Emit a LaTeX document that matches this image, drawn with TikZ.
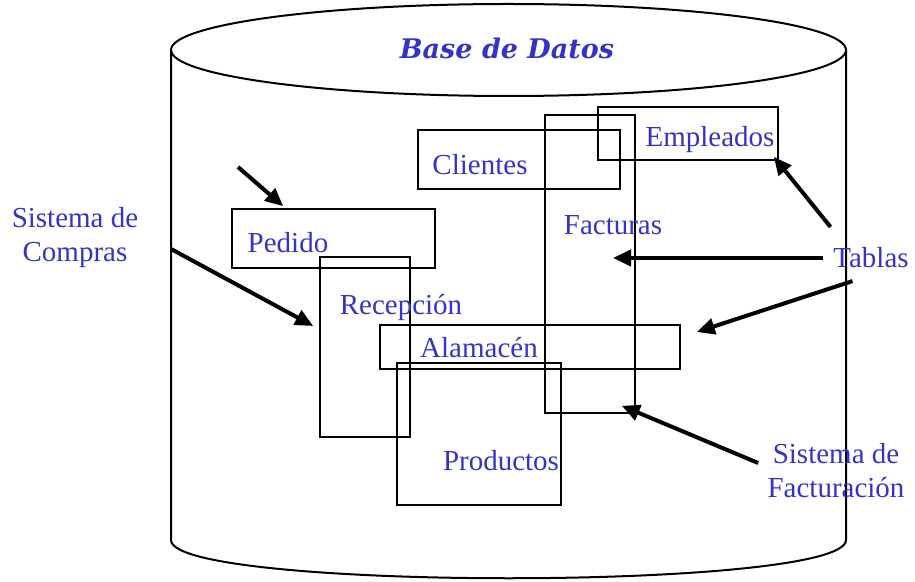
\documentclass[tikz,border=0pt]{standalone}
\usepackage{fontspec}
\setmainfont{Liberation Serif}
\newfontfamily\titlefont{DejaVu Serif}
\usetikzlibrary{arrows.meta}
\definecolor{azul}{RGB}{51,51,204}
\tikzset{
  tabla/.style={draw, line width=0.8pt, inner sep=0pt},
  rotulo/.style={text=azul, font=\fontsize{14.5}{17}\selectfont, inner sep=0pt},
  flecha/.style={-{Triangle[length=9pt,width=8pt]}, line width=2pt},
}
\begin{document}
\begin{tikzpicture}[x=0.5pt, y=-0.5pt]
  \useasboundingbox (0,0) rectangle (915,582);
  % cilindro
  \draw[line width=1pt] (508.5,50) ellipse [x radius=337.5, y radius=46];
  \draw[line width=1pt] (171,50) -- (171,540)
        .. controls (171,591) and (846,591) .. (846,540) -- (846,50);
  \node[rotulo, font=\titlefont\bfseries\itshape\fontsize{13.5}{16}\selectfont] (titulo) at (507,48) {Base de Datos};
  % tablas
  \node[tabla, minimum width=101pt, minimum height=29.5pt] (clientes) at (519,159.5) {};
  \node[tabla, minimum width=90pt, minimum height=26.5pt] (empleados) at (688,133.5) {};
  \node[tabla, minimum width=45pt, minimum height=149pt] (facturas) at (590,264) {};
  \node[tabla, minimum width=101.5pt, minimum height=29.5pt] (pedido) at (333.5,238.5) {};
  \node[tabla, minimum width=45pt, minimum height=90pt] (recepcion) at (365,347) {};
  \node[tabla, minimum width=150pt, minimum height=22pt] (alamacen) at (530,347) {};
  \node[tabla, minimum width=82pt, minimum height=71pt] (productos) at (479,434) {};
  \node[rotulo] (tclientes) at (480,165) {Clientes};
  \node[rotulo] (templeados) at (710,140) {Empleados};
  \node[rotulo] (tfacturas) at (613,225) {Facturas};
  \node[rotulo] (tpedido) at (288,243) {Pedido};
  \node[rotulo] (trecepcion) at (401,308) {Recepción};
  \node[rotulo] (talamacen) at (479,348) {Alamacén};
  \node[rotulo] (tproductos) at (501,461) {Productos};
  % rotulos de fuera
  \node[rotulo, align=center] (compras) at (75,238) {Sistema de\\Compras};
  \node[rotulo] (tablas) at (871,258) {Tablas};
  \node[rotulo, align=center] (facturacion) at (836,471) {Sistema de\\Facturación};
  % flechas
  \coordinate (pedidoin) at (238,167);
  \coordinate (comprasin) at (171,249);
  \draw[flecha] (pedidoin) -- ([xshift=26pt,yshift=1pt]pedido.north west);
  \draw[flecha] (comprasin) -- ([shift={(-3pt,10.5pt)}]recepcion.west);
  \draw[flecha] ([shift={(-1.25pt,10.25pt)}]tablas.north west) -- ([shift={(-2.5pt,2pt)}]empleados.south east);
  \draw[flecha] ([xshift=-5pt]tablas.west) -- ([shift={(11.5pt,3pt)}]facturas.center);
  \draw[flecha] ([shift={(9.75pt,-6.25pt)}]tablas.south west) -- ([shift={(8pt,7.5pt)}]alamacen.east);
  \draw[flecha] ([shift={(-4.5pt,4pt)}]facturacion.west) -- ([shift={(-7pt,4pt)}]facturas.south east);
\end{tikzpicture}
\end{document}
